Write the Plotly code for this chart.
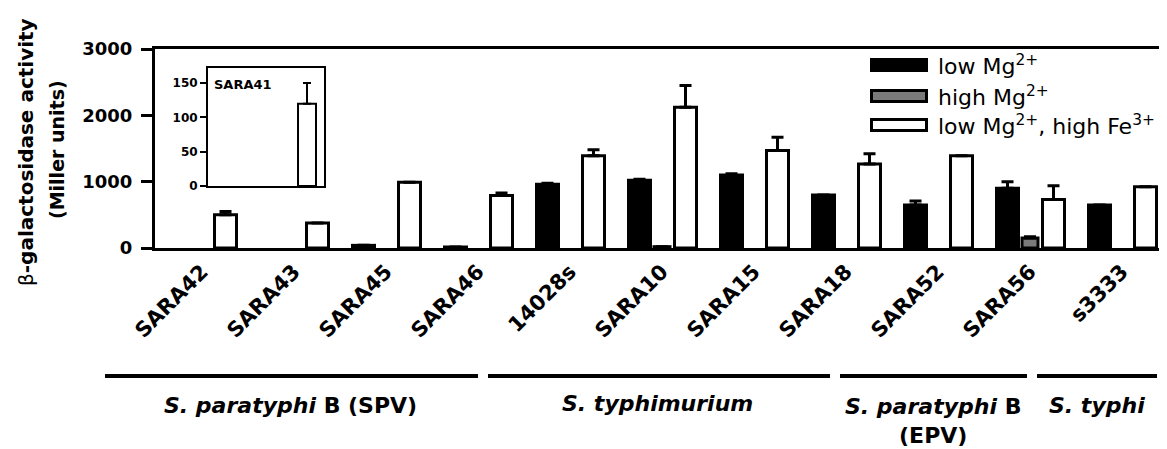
import plotly.graph_objects as go

# ---------------- data ----------------
# None = no bar visible in the reference
strains = ["SARA42", "SARA43", "SARA45", "SARA46", "14028s", "SARA10",
           "SARA15", "SARA18", "SARA52", "SARA56", "s3333"]
low_mg = [None, None, 40, 15, 960, 1020, 1100, 800, 650, 900, 650]
low_mg_err = [0, 0, 0, 0, 15, 15, 20, 0, 60, 100, 0]
high_mg = [None, None, None, None, None, 20, None, None, None, 150, None]
high_mg_err = [0, 0, 0, 0, 0, 0, 0, 0, 0, 20, 0]
low_mg_high_fe = [500, 375, 990, 790, 1390, 2120, 1470, 1265, 1390, 730, 925]
low_mg_high_fe_err = [50, 0, 0, 40, 90, 330, 200, 155, 0, 210, 0]

inset_strain = ["SARA41"]
inset_fe = [120]
inset_fe_err = [30]

y_ticks = [0, 1000, 2000, 3000]
inset_ticks = [0, 50, 100, 150]

series_names = ["low Mg<sup>2+</sup>", "high Mg<sup>2+</sup>",
                "low Mg<sup>2+</sup>, high Fe<sup>3+</sup>"]
series_colors = ["#000000", "#7a7a7a", "#ffffff"]

groups = ["<i>S. paratyphi</i> B (SPV)", "<i>S. typhimurium</i>",
          "<i>S. paratyphi</i> B<br>(EPV)", "<i>S. typhi</i>"]

FONT = "DejaVu Sans"
OFF = 8                   # the page body margin shifts the figure by 8 px
W, H = 1167, 449
L = 155 - OFF
T = 49 - OFF
B = H - (248 - OFF)
PW = W - L
PH = H - T - B
UNIT = 92.0               # pixels per category


def px2x(px):
    return (px - OFF - L) / PW


def px2y(py):
    return (H - B - (py - OFF)) / PH


fig = go.Figure()

bar_line = dict(color="#000000", width=3)
err_style = dict(type="data", symmetric=False, thickness=3, width=6, color="#000000")

fig.add_trace(go.Bar(
    x=strains, y=low_mg, name=series_names[0], showlegend=False,
    marker=dict(color=series_colors[0], line=bar_line),
    offset=-0.364, width=0.239,
    error_y=dict(array=low_mg_err, arrayminus=[0] * len(strains), **err_style),
))
fig.add_trace(go.Bar(
    x=strains, y=high_mg, name=series_names[1], showlegend=False,
    marker=dict(color=series_colors[1], line=bar_line),
    offset=-0.087, width=0.174,
    error_y=dict(array=high_mg_err, arrayminus=[0] * len(strains), **err_style),
))
fig.add_trace(go.Bar(
    x=strains, y=low_mg_high_fe, name=series_names[2], showlegend=False,
    marker=dict(color=series_colors[2], line=bar_line),
    offset=0.136, width=0.239,
    error_y=dict(array=low_mg_high_fe_err, arrayminus=[0] * len(strains), **err_style),
))

# inset
fig.add_trace(go.Bar(
    x=inset_strain, y=inset_fe, name=series_names[2], showlegend=False,
    xaxis="x2", yaxis="y2",
    marker=dict(color=series_colors[2], line=dict(color="#000000", width=2)),
    offset=0.276, width=0.155,
    error_y=dict(array=inset_fe_err, arrayminus=[0], type="data", symmetric=False,
                 thickness=2, width=4, color="#000000"),
))

x0 = -47.0 / UNIT
fig.update_layout(
    width=W, height=H,
    margin=dict(l=L, r=0, t=T, b=B, pad=0),
    paper_bgcolor="white", plot_bgcolor="white",
    barmode="overlay",
    font=dict(family=FONT, color="#000000"),
    xaxis=dict(
        range=[x0, x0 + PW / UNIT], showgrid=False, zeroline=False,
        showline=True, linecolor="#000000", linewidth=3, mirror=True,
        ticks="", tickangle=-45,
        tickfont=dict(family=FONT, size=21, color="#000000", weight="bold"),
    ),
    yaxis=dict(
        range=[0, 3000], tickvals=y_ticks, showgrid=False, zeroline=False,
        showline=True, linecolor="#000000", linewidth=3, mirror=False,
        ticks="outside", ticklen=11, tickwidth=3, tickcolor="#000000",
        ticklabelstandoff=5,
        tickfont=dict(family=FONT, size=18, color="#000000", weight="bold"),
    ),
    xaxis2=dict(
        domain=[px2x(208), px2x(324)], anchor="y2", range=[-0.5, 0.5],
        showgrid=False, zeroline=False, showline=True, linecolor="#000000",
        linewidth=2, mirror=True, ticks="", showticklabels=False,
    ),
    yaxis2=dict(
        domain=[px2y(186), px2y(68)], anchor="x2", range=[0, 172],
        tickvals=inset_ticks, showgrid=False, zeroline=False, showline=True,
        linecolor="#000000", linewidth=2, mirror=True,
        ticks="outside", ticklen=6, tickwidth=2, tickcolor="#000000",
        tickfont=dict(family=FONT, size=12, color="#000000", weight="bold"),
    ),
)

ann = []
shapes = []

# y-axis title (two lines)
ann.append(dict(text="β<b>-galactosidase activity</b>", xref="paper", yref="paper",
                x=px2x(26), y=px2y(152), textangle=-90, showarrow=False,
                xanchor="center", yanchor="middle",
                font=dict(family=FONT, size=20, color="#000000")))
ann.append(dict(text="<b>(Miller units)</b>", xref="paper", yref="paper",
                x=px2x(57), y=px2y(150), textangle=-90, showarrow=False,
                xanchor="center", yanchor="middle",
                font=dict(family=FONT, size=19, color="#000000")))

# inset label
ann.append(dict(text="<b>" + inset_strain[0] + "</b>", xref="paper", yref="paper",
                x=px2x(212), y=px2y(84), xanchor="left", yanchor="middle",
                showarrow=False, font=dict(family=FONT, size=13, color="#000000")))

# legend (custom wide swatches)
leg_rows = [65, 96, 125]
for name, col, yc in zip(series_names, series_colors, leg_rows):
    shapes.append(dict(type="rect", xref="paper", yref="paper",
                       x0=px2x(871.5), x1=px2x(926.5),
                       y0=px2y(yc + 5.5), y1=px2y(yc - 5.5),
                       fillcolor=col, line=dict(color="#000000", width=3)))
    ann.append(dict(text=name, xref="paper", yref="paper", x=px2x(936), y=px2y(yc),
                    xanchor="left", yanchor="middle", showarrow=False,
                    font=dict(family=FONT, size=22, color="#000000")))

# group brackets
bracket_px = [(105, 478), (488, 830), (840, 1027), (1037, 1157)]
label_px = [(290, 405), (657, 404), (933, 421), (1097, 405)]
for (bx0, bx1), (lx, ly), g in zip(bracket_px, label_px, groups):
    shapes.append(dict(type="line", xref="paper", yref="paper",
                       x0=px2x(bx0), x1=px2x(bx1), y0=px2y(376), y1=px2y(376),
                       line=dict(color="#000000", width=4)))
    ann.append(dict(text="<b>" + g + "</b>", xref="paper", yref="paper",
                    x=px2x(lx), y=px2y(ly), xanchor="center", yanchor="middle",
                    showarrow=False, align="center",
                    font=dict(family=FONT, size=22, color="#000000")))

fig.update_layout(annotations=ann, shapes=shapes)

fig.write_html("out.html", config={"displayModeBar": False})
